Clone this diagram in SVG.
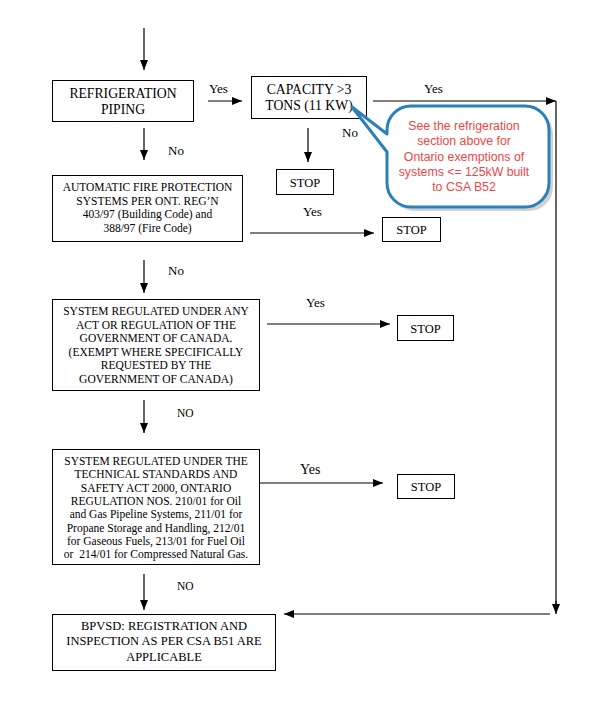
<svg xmlns="http://www.w3.org/2000/svg" width="600" height="720" viewBox="0 0 600 720">
<defs>
<marker id="ah" markerUnits="userSpaceOnUse" markerWidth="10" markerHeight="10" viewBox="0 0 10 10" refX="10" refY="5" orient="auto">
<path d="M0,1 L10,5 L0,9 Z" fill="#000"/>
</marker>
</defs>
<style>
.box{fill:#fff;stroke:#000;stroke-width:1}
.t{font-family:"Liberation Serif","Times New Roman",serif;fill:#000;text-anchor:middle}
.lbl{font-family:"Liberation Serif","Times New Roman",serif;fill:#000;font-size:13px}
.c{fill:none;stroke:#000;stroke-width:1.2;marker-end:url(#ah)}
.ln{fill:none;stroke:#000;stroke-width:1.2}
.call{font-family:"Liberation Sans",Arial,sans-serif;fill:#EE4646;font-size:12.3px;text-anchor:middle}
</style>
<rect width="600" height="720" fill="#fff"/>
<g id="connectors">
<path class="c" d="M144,28 V70"/>
<path class="c" d="M208,101 H242"/>
<path class="c" d="M373,101 H556"/>
<path class="ln" d="M556,101 V606"/>
<path class="c" d="M556,601 V614"/>
<path class="c" d="M550,614 H284"/>
<path class="c" d="M144,128 V160"/>
<path class="c" d="M308,128 V162"/>
<path class="c" d="M250,233 H374"/>
<path class="c" d="M144,260 V293"/>
<path class="c" d="M267,324 H390"/>
<path class="c" d="M144,400 V433"/>
<path class="c" d="M260,483 H383"/>
<path class="c" d="M144,574 V610"/>
<text class="lbl" x="209" y="93">Yes</text>
<text class="lbl" x="424" y="93">Yes</text>
<text class="lbl" x="168" y="155">No</text>
<text class="lbl" x="342" y="137">No</text>
<text class="lbl" x="303" y="216">Yes</text>
<text class="lbl" x="168" y="275">No</text>
<text class="lbl" x="306" y="307">Yes</text>
<text class="lbl" x="177" y="417" style="font-size:11.5px">NO</text>
<text class="lbl" x="300" y="474" style="font-size:14px">Yes</text>
<text class="lbl" x="177" y="590" style="font-size:11.5px">NO</text>
</g>
<g id="refrigeration">
<rect class="box" x="52.5" y="80.5" width="141" height="41"/>
<text class="t" style="font-size:13.7px"><tspan x="123" y="97.5">REFRIGERATION</tspan><tspan x="123" y="113.5">PIPING</tspan></text>
</g>
<g id="capacity">
<rect class="box" x="251.5" y="76.5" width="115" height="42"/>
<text class="t" style="font-size:13.7px"><tspan x="309" y="94">CAPACITY &gt;3</tspan><tspan x="309" y="110">TONS (11 KW)</tspan></text>
</g>
<g id="callout">
<path d="M413,108 H527 A24,24 0 0 1 551,132 V185 A24,24 0 0 1 527,209 H413 A24,24 0 0 1 389,185 V154 L354,109 L389,136 V132 A24,24 0 0 1 413,108 Z" fill="#000" opacity="0.18" transform="translate(2,2)"/>
<path d="M411,106 H525 A24,24 0 0 1 549,130 V183 A24,24 0 0 1 525,207 H411 A24,24 0 0 1 387,183 V152 L352,107 L387,134 V130 A24,24 0 0 1 411,106 Z" fill="#fff" stroke="#2A80BA" stroke-width="3" stroke-linejoin="round"/>
<text class="call"><tspan x="464" y="129.5">See the refrigeration</tspan><tspan x="464" y="145">section above for</tspan><tspan x="464" y="160.5">Ontario exemptions of</tspan><tspan x="464" y="176">systems &lt;= 125kW built</tspan><tspan x="464" y="191">to CSA B52</tspan></text>
</g>
<g id="stop1">
<rect class="box" x="276.5" y="169.5" width="57" height="25"/>
<text class="t" style="font-size:12.5px" x="305" y="186.5">STOP</text>
</g>
<g id="fireprotection">
<rect class="box" x="52.5" y="175.5" width="190" height="66"/>
<text class="t" style="font-size:11.5px"><tspan x="147.5" y="191">AUTOMATIC FIRE PROTECTION</tspan><tspan x="147.5" y="204.5">SYSTEMS PER ONT. REG’N</tspan><tspan x="147.5" y="218">403/97 (Building Code) and</tspan><tspan x="147.5" y="231.5">388/97 (Fire Code)</tspan></text>
</g>
<g id="stop2">
<rect class="box" x="382.5" y="217.5" width="58" height="24"/>
<text class="t" style="font-size:12.5px" x="411.5" y="234">STOP</text>
</g>
<g id="canada">
<rect class="box" x="52.5" y="299.5" width="207" height="91"/>
<text class="t" style="font-size:11.5px"><tspan x="156" y="315">SYSTEM REGULATED UNDER ANY</tspan><tspan x="156" y="328.5">ACT OR REGULATION OF THE</tspan><tspan x="156" y="342">GOVERNMENT OF CANADA.</tspan><tspan x="156" y="355.5">(EXEMPT WHERE SPECIFICALLY</tspan><tspan x="156" y="369">REQUESTED BY THE</tspan><tspan x="156" y="382.5">GOVERNMENT OF CANADA)</tspan></text>
</g>
<g id="stop3">
<rect class="box" x="397.5" y="315.5" width="56" height="25"/>
<text class="t" style="font-size:12.5px" x="425.5" y="332.5">STOP</text>
</g>
<g id="tssa">
<rect class="box" x="52.5" y="449.5" width="207" height="115"/>
<text class="t" style="font-size:11.5px"><tspan x="156" y="465">SYSTEM REGULATED UNDER THE</tspan><tspan x="156" y="478.3">TECHNICAL STANDARDS AND</tspan><tspan x="156" y="491.6">SAFETY ACT 2000, ONTARIO</tspan><tspan x="156" y="504.9">REGULATION NOS. 210/01 for Oil</tspan><tspan x="156" y="518.2">and Gas Pipeline Systems, 211/01 for</tspan><tspan x="156" y="531.5">Propane Storage and Handling, 212/01</tspan><tspan x="156" y="544.8">for Gaseous Fuels, 213/01 for Fuel Oil</tspan><tspan x="156" y="558.1">or&#160; 214/01 for Compressed Natural Gas.</tspan></text>
</g>
<g id="stop4">
<rect class="box" x="397.5" y="474.5" width="57" height="24"/>
<text class="t" style="font-size:12.5px" x="426" y="491">STOP</text>
</g>
<g id="bpvsd">
<rect class="box" x="52.5" y="614.5" width="223" height="56"/>
<text class="t" style="font-size:12.5px"><tspan x="164" y="629.5">BPVSD: REGISTRATION AND</tspan><tspan x="164" y="645">INSPECTION AS PER CSA B51 ARE</tspan><tspan x="164" y="660.5">APPLICABLE</tspan></text>
</g>
</svg>
